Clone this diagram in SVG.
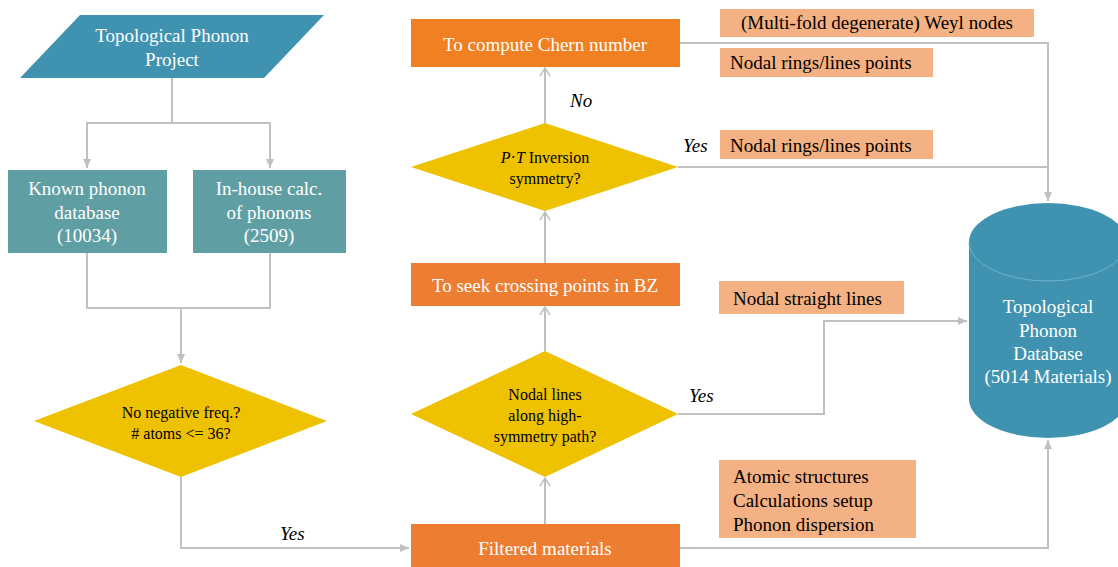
<svg xmlns="http://www.w3.org/2000/svg" width="1118" height="567" viewBox="0 0 1118 567" font-family="'Liberation Serif', 'Times New Roman', serif">
<style>
text{font-family:'Liberation Serif','Times New Roman',serif;}
.w{fill:#ffffff;font-size:19px;text-anchor:middle;}
.k{fill:#000000;font-size:19px;}
.d{fill:#000000;font-size:16px;text-anchor:middle;}
.i{fill:#000000;font-size:19px;font-style:italic;}
.blue{fill:#3f93b0;}
.teal{fill:#5f9fa4;}
.gold{fill:#eec200;}
.org{fill:#ed7d31;}
.peach{fill:#f4b183;}
.c{fill:none;stroke:#c0c0c0;stroke-width:2;}
</style>
<defs>
<marker id="ah" markerUnits="userSpaceOnUse" markerWidth="10" markerHeight="10" refX="9" refY="5" orient="auto">
<path d="M0,1 L9,5 L0,9 z" fill="#c0c0c0"/>
</marker>
<marker id="av" markerUnits="userSpaceOnUse" markerWidth="10" markerHeight="12" refX="9" refY="6" orient="auto">
<path d="M1,1 L9,6 L1,11" fill="none" stroke="#c0c0c0" stroke-width="1.5"/>
</marker>
</defs>
<rect width="1118" height="567" fill="#ffffff"/>

<g id="connectors">
<path class="c" d="M172,78 V123 H87 V168" marker-end="url(#ah)"/>
<path class="c" d="M172,123 H270 V168" marker-end="url(#ah)"/>
<path class="c" d="M87,253 V308 H270 V253"/>
<path class="c" d="M181,308 V363" marker-end="url(#ah)"/>
<path class="c" d="M181,477 V548 H409" marker-end="url(#ah)"/>
<path class="c" d="M545,524 V478" marker-end="url(#av)"/>
<path class="c" d="M545,351 V307" marker-end="url(#av)"/>
<path class="c" d="M545,263 V212" marker-end="url(#av)"/>
<path class="c" d="M545,123 V68" marker-end="url(#av)"/>
<path class="c" d="M680,43 H1048 V201" marker-end="url(#ah)"/>
<path class="c" d="M678,167 H1048"/>
<path class="c" d="M678,414 H824 V321 H967" marker-end="url(#ah)"/>
<path class="c" d="M680,548 H1048 V440" marker-end="url(#ah)"/>
</g>

<g id="project">
<polygon class="blue" points="80,15 324,15 264,78 20,78"/>
<text class="w" x="172" y="42">Topological Phonon</text>
<text class="w" x="172" y="66">Project</text>
</g>

<g id="known">
<rect class="teal" x="8" y="170" width="159" height="83"/>
<text class="w" x="87" y="195">Known phonon</text>
<text class="w" x="87" y="219">database</text>
<text class="w" x="87" y="242">(10034)</text>
</g>

<g id="inhouse">
<rect class="teal" x="193" y="170" width="153" height="83"/>
<text class="w" x="269" y="195">In-house calc.</text>
<text class="w" x="269" y="219">of phonons</text>
<text class="w" x="269" y="242">(2509)</text>
</g>

<g id="filter">
<polygon class="gold" points="181,365 327,421 181,477 34,421"/>
<text class="d" x="181" y="418">No negative freq.?</text>
<text class="d" x="181" y="439"># atoms &lt;= 36?</text>
</g>

<g id="filtered">
<rect class="org" x="411" y="524" width="269" height="43"/>
<text class="w" x="545" y="555">Filtered materials</text>
</g>

<g id="nodal-lines">
<polygon class="gold" points="545,351 678,414 545,477 411,414"/>
<text class="d" x="545" y="400">Nodal lines</text>
<text class="d" x="545" y="421">along high-</text>
<text class="d" x="545" y="442">symmetry path?</text>
</g>

<g id="seek">
<rect class="org" x="411" y="263" width="269" height="43"/>
<text class="w" x="545" y="292">To seek crossing points in BZ</text>
</g>

<g id="pt">
<polygon class="gold" points="545,123 678,167 545,211 411,167"/>
<text class="d" x="545" y="163"><tspan font-style="italic">P</tspan>·<tspan font-style="italic">T</tspan> Inversion</text>
<text class="d" x="545" y="184">symmetry?</text>
</g>

<g id="chern">
<rect x="411" y="19" width="269" height="48" fill="#f08021"/>
<text class="w" x="545" y="51">To compute Chern number</text>
</g>

<g id="database">
<path class="blue" d="M969,242 A79,39 0 0 1 1127,242 L1127,399 A79,39 0 0 1 969,399 Z"/>
<path d="M969,242 A79,39 0 0 0 1127,242" fill="none" stroke="#6fb3cb" stroke-width="1"/>
<text class="w" x="1048" y="313">Topological</text>
<text class="w" x="1048" y="337">Phonon</text>
<text class="w" x="1048" y="360">Database</text>
<text class="w" x="1048" y="383">(5014 Materials)</text>
</g>

<g id="label-weyl">
<rect class="peach" x="720" y="9" width="314" height="28"/>
<text class="k" x="877" y="29" text-anchor="middle">(Multi-fold degenerate) Weyl nodes</text>
</g>
<g id="label-rings1">
<rect class="peach" x="720" y="48" width="213" height="29"/>
<text class="k" x="730" y="69">Nodal rings/lines points</text>
</g>
<g id="label-rings2">
<rect class="peach" x="720" y="130" width="213" height="29"/>
<text class="k" x="730" y="152">Nodal rings/lines points</text>
</g>
<g id="label-straight">
<rect class="peach" x="719" y="281" width="185" height="33"/>
<text class="k" x="733" y="305">Nodal straight lines</text>
</g>
<g id="label-atomic">
<rect class="peach" x="719" y="460" width="197" height="78"/>
<text class="k" x="733" y="483">Atomic structures</text>
<text class="k" x="733" y="507">Calculations setup</text>
<text class="k" x="733" y="531">Phonon dispersion</text>
</g>

<g id="edge-labels">
<text class="i" x="570" y="107">No</text>
<text class="i" x="683" y="152">Yes</text>
<text class="i" x="689" y="402">Yes</text>
<text class="i" x="280" y="540">Yes</text>
</g>
</svg>
